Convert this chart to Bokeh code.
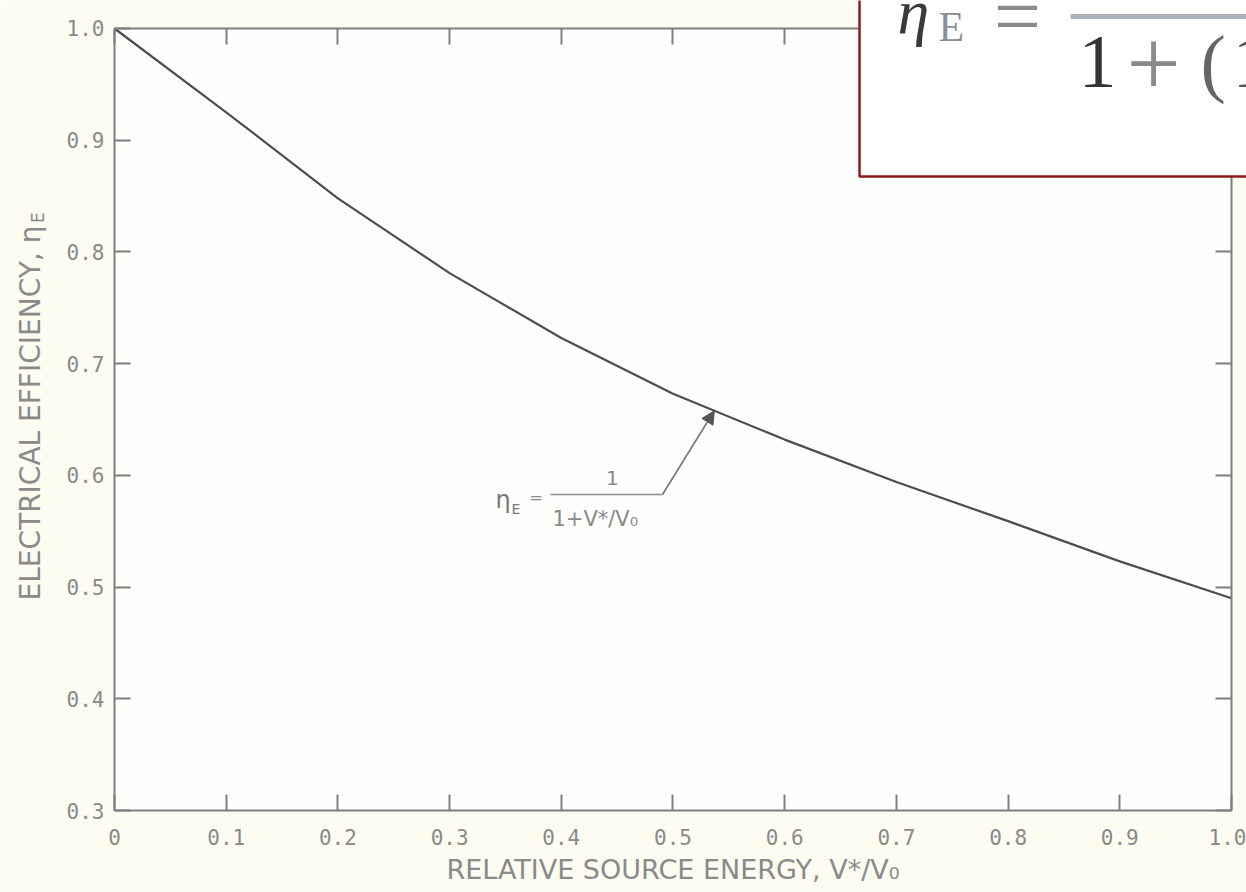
import numpy as np
from bokeh.plotting import figure
from bokeh.models import (Range1d, LinearAxis, FixedTicker, Label, BoxAnnotation,
                          Arrow, NormalHead)
from bokeh.embed import file_html
from bokeh.resources import INLINE

# ---- data ----
rel_energy = [0.0, 0.1, 0.2, 0.3, 0.4, 0.5, 0.6, 0.7, 0.8, 0.9, 1.0]
efficiency = [1.0, 0.925, 0.848, 0.781, 0.723, 0.673, 0.632, 0.594, 0.559, 0.523, 0.490]

x_ticks = [0.0, 0.1, 0.2, 0.3, 0.4, 0.5, 0.6, 0.7, 0.8, 0.9, 1.0]
x_tick_labels = ["0", "0.1", "0.2", "0.3", "0.4", "0.5", "0.6", "0.7", "0.8", "0.9", "1.0"]
y_ticks = [0.3, 0.4, 0.5, 0.6, 0.7, 0.8, 0.9, 1.0]
y_tick_labels = ["0.3", "0.4", "0.5", "0.6", "0.7", "0.8", "0.9", "1.0"]

x_title = "RELATIVE SOURCE ENERGY, V*/V\u2080"
y_title = "ELECTRICAL EFFICIENCY, \u03b7"
annot_x = 0.537  # where the leader arrow touches the curve

X_MIN, X_MAX = 0.0, 1.0
Y_MIN, Y_MAX = 0.3, 1.0

AX = "#7f7f7f"
TXT = "#8a8a8a"
W, H = 1246, 892
# the frame covers the whole canvas; the plotted box sits inside it
x_range = Range1d(-0.10206, 1.01343)
y_range = Range1d(0.22660, 1.02506)

p = figure(width=W, height=H, x_range=x_range, y_range=y_range,
           output_backend="svg", toolbar_location=None,
           x_axis_location=None, y_axis_location=None,
           min_border=0, min_border_left=0, min_border_right=0,
           min_border_top=0, min_border_bottom=0)
p.grid.visible = False
p.outline_line_color = None
p.border_fill_color = "#fdfcf1"
p.background_fill_color = "#fdfcf1"

# white-ish plotting area of the scanned page
p.add_layout(BoxAnnotation(left=X_MIN, right=X_MAX, bottom=Y_MIN, top=Y_MAX,
                           fill_color="#fefefc", fill_alpha=1.0, line_color=None,
                           level="underlay"))


def make_axis(ticks, labels, show_labels, loc, bounds):
    ax = LinearAxis(ticker=FixedTicker(ticks=ticks), fixed_location=loc, bounds=bounds)
    ax.major_label_overrides = {t: l for t, l in zip(ticks, labels)}
    ax.axis_line_color = AX
    ax.axis_line_width = 2
    ax.major_tick_line_color = AX
    ax.major_tick_line_width = 2
    ax.major_tick_in = 16
    ax.major_tick_out = 0
    ax.minor_tick_line_color = None
    if show_labels:
        ax.major_label_text_font = "DejaVu Sans Mono"
        ax.major_label_text_font_size = "21px"
        ax.major_label_text_color = TXT
    else:
        ax.major_label_text_font_size = "0px"
        ax.major_label_standoff = 0
    return ax


BOX_LEFT = 0.667     # inset equation box, hides the upper-right frame
BOX_BOTTOM = 0.8675

bottom = make_axis(x_ticks, x_tick_labels, True, Y_MIN, (X_MIN, X_MAX))
bottom.major_label_standoff = 18
left = make_axis(y_ticks, y_tick_labels, True, X_MIN, (Y_MIN, Y_MAX))
left.major_label_standoff = 10
top = make_axis(x_ticks, x_tick_labels, False, Y_MAX, (X_MIN, BOX_LEFT))
right = make_axis(y_ticks, y_tick_labels, False, X_MAX, (Y_MIN, BOX_BOTTOM))
p.add_layout(bottom, "below")
p.add_layout(left, "left")
p.add_layout(top, "above")
p.add_layout(right, "right")

# curve
p.line(rel_energy, efficiency, line_color="#4d4d4d", line_width=2.2)

# axis titles
SANS = "DejaVu Sans"
p.add_layout(Label(x=0.5, y=0.2470, text=x_title, text_align="center", text_baseline="middle",
                   text_font=SANS, text_font_size="27px", text_color=TXT))
p.add_layout(Label(x=-0.0752, y=0.488, text=y_title, angle=np.pi / 2, text_align="left",
                   text_baseline="middle", text_font=SANS,
                   text_font_size="28px", text_color=TXT))
p.add_layout(Label(x=-0.0682, y=0.826, text="E", angle=np.pi / 2, text_align="left",
                   text_baseline="middle", text_font=SANS,
                   text_font_size="17px", text_color=TXT))

# small equation annotation with leader arrow
tip_y = float(np.interp(annot_x, rel_energy, efficiency))
p.add_layout(Arrow(end=NormalHead(size=13, fill_color="#555555", line_color="#555555"),
                   x_start=0.4906, y_start=0.5829, x_end=annot_x, y_end=tip_y,
                   line_color="#777777", line_width=1.6))
p.add_layout(Arrow(end=None, x_start=0.3903, y_start=0.5829, x_end=0.4906, y_end=0.5829,
                   line_color="#8a8a8a", line_width=1.6))
p.add_layout(Label(x=0.3411, y=0.5775, text="\u03b7", text_align="left", text_baseline="middle",
                   text_font=SANS, text_font_size="24px", text_color="#777777"))
p.add_layout(Label(x=0.3555, y=0.5703, text="E", text_align="left", text_baseline="middle",
                   text_font=SANS, text_font_size="14px", text_color="#777777"))
p.add_layout(Label(x=0.3716, y=0.5802, text="=", text_align="left", text_baseline="middle",
                   text_font=SANS, text_font_size="16px", text_color="#888888"))
p.add_layout(Label(x=0.4458, y=0.5972, text="1", text_align="center", text_baseline="middle",
                   text_font=SANS, text_font_size="20px", text_color="#888888"))
p.add_layout(Label(x=0.3921, y=0.5605, text="1+V*/V\u2080", text_align="left", text_baseline="middle",
                   text_font=SANS, text_font_size="21px", text_color="#888888"))

# inset equation box (top right)
p.add_layout(BoxAnnotation(left=BOX_LEFT, right=1.2, bottom=BOX_BOTTOM, top=1.2,
                           fill_color="white", fill_alpha=1.0,
                           line_color="#8b1a1a", line_alpha=1.0, line_width=2.5))
SERIF = "Liberation Serif"
p.add_layout(Label(x=0.7010, y=1.0152, text="\u03b7", text_align="left", text_baseline="alphabetic",
                   text_font=SERIF, text_font_style="italic", text_font_size="64px",
                   text_color="#3a3a3a"))
p.add_layout(Label(x=0.7377, y=1.0009, text="E", text_align="left", text_baseline="alphabetic",
                   text_font=SERIF, text_font_size="42px", text_color="#8a8f99"))
p.add_layout(Label(x=0.8084, y=1.0107, text="=", text_align="center", text_baseline="middle",
                   text_font=SERIF, text_font_size="84px", text_color="#8a8a8a"))
p.add_layout(Arrow(end=None, x_start=0.8559, y_start=1.0107, x_end=1.2, y_end=1.0107,
                   line_color="#aeb3bb", line_width=5))
p.add_layout(Label(x=0.8630, y=0.9700, text="1", text_align="left", text_baseline="alphabetic",
                   text_font=SERIF, text_font_size="76px", text_color="#333333"))
p.add_layout(Label(x=0.9302, y=0.9687, text="+", text_align="center", text_baseline="alphabetic",
                   text_font=SERIF, text_font_size="96px", text_color="#8a8a8a"))
p.add_layout(Label(x=0.9722, y=0.9700, text="(", text_align="left", text_baseline="alphabetic",
                   text_font=SERIF, text_font_size="76px", text_color="#666666"))
p.add_layout(Label(x=1.0009, y=0.9700, text="1", text_align="left", text_baseline="alphabetic",
                   text_font=SERIF, text_font_size="76px", text_color="#555555"))

open("out.html", "w").write(file_html(p, INLINE))
